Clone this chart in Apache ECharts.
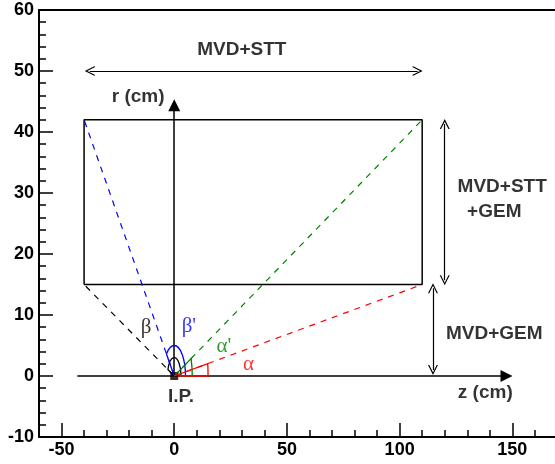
<!DOCTYPE html>
<html><head><meta charset="utf-8">
<script src="https://cdn.jsdelivr.net/npm/echarts@6/dist/echarts.min.js"></script>
<style>html,body{margin:0;padding:0;background:#fff}#c{width:555px;height:464px}</style>
</head><body><div id="c"></div>
<script>
// ---- data (axis units: z in cm, r in cm) ----
const xRange = [-60, 170];
const yRange = [-10, 60];
const xMajorRange = [-50, 150];
const xTickLabels = [-50, 0, 50, 100, 150];
const yTickLabels = [-10, 0, 10, 20, 30, 40, 50, 60];
const ip = [0, 0];
const detectorZ = [-40, 110];
const detectorR = [15, 42];
const zAxisSeg = [[-43, 0], [147.4, 0]];
const rAxisSeg = [[0, 0], [0, 44.4]];
const sttArrow = [[-37.5, 50], [108, 50]];
const upperArrow = [[120, 41.3], [120, 15.7]];
const lowerArrow = [[114.8, 14.4], [114.8, 1]];
const rayEnds = [[-40, 15], [-40, 42], [110, 42], [110, 15]];   // beta, beta', alpha', alpha
const arcRadii = [3, 5, 8, 15];                                   // beta, beta', alpha', alpha
const annotationTexts = ['MVD+STT', 'r (cm)', 'I.P.', 'z (cm)', 'MVD+STT', '+GEM', 'MVD+GEM'];
const annotationPos = [[30, 53.5], [-16, 45.7], [3, -3.4], [138, -2.8], [145.5, 31], [142, 26.9], [142, 7]];
const greekTexts = ['β', "β'", "α'", 'α'];
const greekPos = [[-12.5, 8], [6.5, 8.1], [22, 4.9], [33, 1.9]];

// ---- styles ----
const rayColors = ['#000000', '#0000ff', '#008000', '#ff0000'];
const FONT = 'Liberation Sans';
const unitX = 2.254, unitY = 6.1, gLeft = 39, gTop = 10;

const rect = [[detectorZ[0], detectorR[0]], [detectorZ[1], detectorR[0]], [detectorZ[1], detectorR[1]], [detectorZ[0], detectorR[1]], [detectorZ[0], detectorR[0]]];
const openArrow = 'path://M0,10 L5,0 L10,10 L8.7,10 L5,2.6 L1.3,10 Z';

const chart = echarts.init(document.getElementById('c'), null, {renderer: 'canvas'});
const grid0H = (yRange[1] - yRange[0]) * unitY;
const option = {
  animation: false,
  backgroundColor: '#fff',
  grid: [
    {left: gLeft, top: gTop, width: (xRange[1] - xRange[0]) * unitX, height: grid0H, containLabel: false, outerBoundsMode: 'none'},
    {left: gLeft + (xMajorRange[0] - xRange[0]) * unitX, top: gTop, width: (xMajorRange[1] - xMajorRange[0]) * unitX, height: grid0H, containLabel: false, outerBoundsMode: 'none'}
  ],
  xAxis: [
    {type: 'value', gridIndex: 0, position: 'bottom', min: xRange[0], max: xRange[1], interval: 10,
     axisLine: {show: true, onZero: false, lineStyle: {color: '#000', width: 2}},
     axisTick: {show: true, inside: true, length: 7, lineStyle: {color: '#000', width: 1.5}},
     axisLabel: {show: false}, splitLine: {show: false}},
    {type: 'value', gridIndex: 0, position: 'top', min: xRange[0], max: xRange[1], interval: 10,
     axisLine: {show: true, onZero: false, lineStyle: {color: '#000', width: 2}},
     axisTick: {show: false}, axisLabel: {show: false}, splitLine: {show: false}},
    {type: 'value', gridIndex: 1, position: 'bottom', min: xMajorRange[0], max: xMajorRange[1], interval: 50,
     axisLine: {show: false, onZero: false},
     axisTick: {show: true, inside: true, length: 14, lineStyle: {color: '#000', width: 1.5}},
     axisLabel: {show: true, margin: 4, color: '#000', fontFamily: FONT, fontWeight: 'bold', fontSize: 18,
       formatter: v => xTickLabels.includes(v) ? String(v) : ''},
     splitLine: {show: false}}
  ],
  yAxis: [
    {type: 'value', gridIndex: 0, position: 'left', min: yRange[0], max: yRange[1], interval: 2,
     axisLine: {show: true, onZero: false, lineStyle: {color: '#000', width: 2}},
     axisTick: {show: true, inside: true, length: 7, lineStyle: {color: '#000', width: 1.5}},
     axisLabel: {show: false}, splitLine: {show: false}},
    {type: 'value', gridIndex: 0, position: 'left', offset: 0, min: yRange[0], max: yRange[1], interval: 10,
     axisLine: {show: false, onZero: false},
     axisTick: {show: true, inside: true, length: 14, lineStyle: {color: '#000', width: 1.5}},
     axisLabel: {show: true, margin: 5, color: '#000', fontFamily: FONT, fontWeight: 'bold', fontSize: 18,
       formatter: v => yTickLabels.includes(v) ? String(v) : ''},
     splitLine: {show: false}},
    {type: 'value', gridIndex: 1, min: yRange[0], max: yRange[1], show: false}
  ],
  series: [
    // detector rectangle
    {type: 'line', xAxisIndex: 0, yAxisIndex: 0, data: rect, symbol: 'none', silent: true,
     lineStyle: {color: '#000', width: 1.5}},
    // dashed rays from the IP
    ...rayEnds.map((end, i) => ({type: 'line', xAxisIndex: 0, yAxisIndex: 0, data: [ip, end], symbol: 'none', silent: true,
      lineStyle: {color: rayColors[i], width: 1.2, type: [6, 6]}})),
    // axes of the sketch (filled arrow heads)
    {type: 'lines', coordinateSystem: 'cartesian2d', xAxisIndex: 0, yAxisIndex: 0, silent: true,
     symbol: ['none', 'triangle'], symbolSize: 12,
     data: [{coords: zAxisSeg}, {coords: rAxisSeg}],
     lineStyle: {color: '#000', width: 1.5, opacity: 1, curveness: 0}},
    // double arrows
    {type: 'lines', coordinateSystem: 'cartesian2d', xAxisIndex: 0, yAxisIndex: 0, silent: true,
     symbol: [openArrow, openArrow], symbolSize: 10,
     data: [{coords: sttArrow}, {coords: upperArrow}, {coords: lowerArrow}],
     lineStyle: {color: '#000', width: 1.2, opacity: 1, curveness: 0}},
    // angle arcs
    {type: 'custom', coordinateSystem: 'cartesian2d', xAxisIndex: 0, yAxisIndex: 0, silent: true,
     data: arcRadii.map((r, i) => [r, rayEnds[i][0], rayEnds[i][1]]),
     renderItem: function (params, api) {
       const r = api.value(0), ez = api.value(1), er = api.value(2);
       const c = api.coord(ip);
       const s = api.coord([ip[0] + r, ip[1]]);
       const top = api.coord([ip[0], ip[1] + r]);
       const ang = Math.atan2(er - ip[1], ez - ip[0]);
       const e = api.coord([ip[0] + r * Math.cos(ang), ip[1] + r * Math.sin(ang)]);
       const rx = s[0] - c[0], ry = c[1] - top[1];
       const d = 'M' + c[0] + ' ' + c[1] + ' L' + s[0] + ' ' + s[1] + ' A' + rx + ' ' + ry + ' 0 0 0 ' + e[0] + ' ' + e[1] + ' Z';
       return {type: 'path', shape: {pathData: d}, style: {fill: 'none', stroke: rayColors[params.dataIndex], lineWidth: 1.3}};
     }},
    // IP marker
    {type: 'scatter', xAxisIndex: 0, yAxisIndex: 0, data: [ip], symbol: 'rect', symbolSize: 8, silent: true,
     itemStyle: {color: '#000'}},
    // annotations
    {type: 'scatter', xAxisIndex: 0, yAxisIndex: 0, silent: true, symbolSize: 1,
     itemStyle: {color: 'rgba(0,0,0,0)'},
     data: annotationTexts.map((t, i) => ({value: annotationPos[i], name: t})),
     label: {show: true, position: 'inside', formatter: p => p.name, color: '#000',
       fontFamily: FONT, fontWeight: 'bold', fontSize: 19, align: 'center', verticalAlign: 'middle'}},
    {type: 'scatter', xAxisIndex: 0, yAxisIndex: 0, silent: true, symbolSize: 1,
     itemStyle: {color: 'rgba(0,0,0,0)'},
     data: greekTexts.map((t, i) => ({value: greekPos[i], name: t,
       label: {color: rayColors[i]}})),
     label: {show: true, position: 'inside', formatter: p => p.name,
       fontFamily: 'Liberation Serif', fontSize: 21, align: 'center', verticalAlign: 'middle'}}
  ]
};
chart.setOption(option);
</script>
</body></html>
